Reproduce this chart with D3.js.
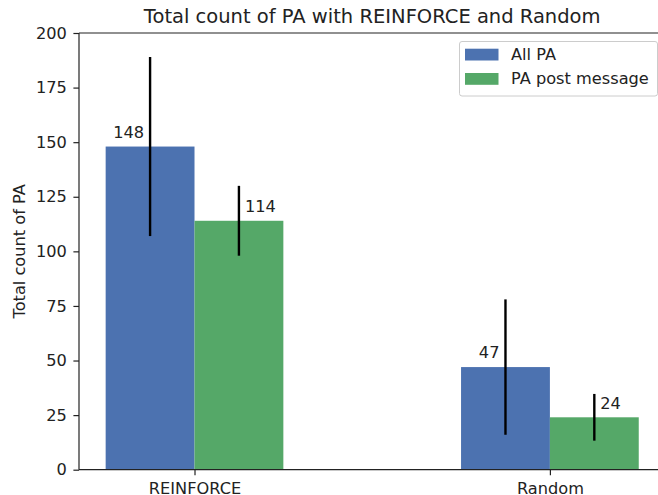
<!DOCTYPE html>
<html><head><meta charset="utf-8">
<script src="https://cdn.jsdelivr.net/npm/d3@7"></script>
<style>body{margin:0;background:#fff}svg{display:block;font-family:"DejaVu Sans",sans-serif}</style>
</head><body><div id="chart"></div>
<script>
const categories = ["REINFORCE", "Random"];
const seriesNames = ["All PA", "PA post message"];
const allPA = [148, 47];
const allPAErr = [41, 31];
const postMsg = [114, 24];
const postMsgErr = [16, 10.7];
const yTicks = [0, 25, 50, 75, 100, 125, 150, 175, 200];
const colors = ["#4c72b0", "#55a868"];

(function () {
const W = 658, H = 495;
const FS = "16.2px", TFS = "19.5px";
const svg = d3.select("#chart").append("svg").attr("width", W).attr("height", H);
const pLeft = 79, pTop = 33, pBottom = 469.7, pRight = 665.4;
const x = d3.scaleLinear().domain([-0.325, 1.325]).range([pLeft, pRight]);
const y = d3.scaleLinear().domain([0, 200]).range([pBottom, pTop]);
const bw = 0.25;

const series = [
  {name: seriesNames[0], vals: allPA, errs: allPAErr, off: -bw/2, color: colors[0]},
  {name: seriesNames[1], vals: postMsg, errs: postMsgErr, off: bw/2, color: colors[1]}
];

series.forEach((s) => {
  svg.append("g").selectAll("rect").data(s.vals).join("rect")
    .attr("x", (d, i) => x(i + s.off - bw/2))
    .attr("width", (d, i) => x(i + s.off + bw/2) - x(i + s.off - bw/2))
    .attr("y", d => y(d))
    .attr("height", d => y(0) - y(d))
    .attr("fill", s.color);
});
series.forEach((s, si) => {
  const g = svg.append("g");
  g.selectAll("line").data(s.vals).join("line")
    .attr("x1", (d, i) => x(i + s.off)).attr("x2", (d, i) => x(i + s.off))
    .attr("y1", (d, i) => y(d + s.errs[i])).attr("y2", (d, i) => y(d - s.errs[i]))
    .attr("stroke", "#000").attr("stroke-width", 2.4);
  g.selectAll("text").data(s.vals).join("text")
    .attr("x", (d, i) => x(i + s.off) + (si === 0 ? -6 : 6))
    .attr("y", d => y(d) - 8.7)
    .attr("text-anchor", si === 0 ? "end" : "start")
    .attr("font-size", FS).attr("fill", "#222")
    .text(d => d);
});

const yAxis = d3.axisLeft(y).tickValues(yTicks).tickSize(5.6).tickPadding(6.5);
const gy = svg.append("g").attr("transform", `translate(${pLeft},0)`).call(yAxis);
gy.select(".domain").remove();
gy.selectAll("text").attr("font-size", FS).attr("fill", "#222").attr("font-family", "DejaVu Sans");
gy.selectAll("line").attr("stroke", "#222").attr("stroke-width", 1.2);

const xAxis = d3.axisBottom(x).tickValues([0, 1]).tickFormat(i => categories[i]).tickSize(5.6).tickPadding(6);
const gx = svg.append("g").attr("transform", `translate(0,${pBottom})`).call(xAxis);
gx.select(".domain").remove();
gx.selectAll("text").attr("font-size", FS).attr("fill", "#222").attr("font-family", "DejaVu Sans")
  .attr("y", 24.0).attr("dy", 0);
gx.selectAll("line").attr("stroke", "#222").attr("stroke-width", 1.2);

const sp = svg.append("g").attr("stroke", "#222").attr("stroke-width", 1.2).attr("fill", "none");
sp.append("line").attr("x1", pLeft).attr("x2", pLeft).attr("y1", pTop).attr("y2", pBottom);
sp.append("line").attr("x1", pLeft).attr("x2", pRight).attr("y1", pBottom).attr("y2", pBottom);
sp.append("line").attr("x1", pLeft).attr("x2", pRight).attr("y1", pTop).attr("y2", pTop);
sp.append("line").attr("x1", pRight).attr("x2", pRight).attr("y1", pTop).attr("y2", pBottom);

svg.append("text").attr("x", (pLeft + pRight) / 2).attr("y", 22.5).attr("text-anchor", "middle")
  .attr("font-size", TFS).attr("fill", "#222").text("Total count of PA with REINFORCE and Random");

svg.append("text").attr("transform", `translate(25,${(pTop + pBottom) / 2}) rotate(-90)`)
  .attr("text-anchor", "middle").attr("font-size", FS).attr("fill", "#222").text("Total count of PA");

const lg = svg.append("g");
lg.append("rect").attr("x", 459.5).attr("y", 41.5).attr("width", 198).attr("height", 54.5)
  .attr("rx", 2.5).attr("fill", "#fff").attr("fill-opacity", 0.8).attr("stroke", "#ccc").attr("stroke-width", 1);
series.forEach((s, i) => {
  lg.append("rect").attr("x", 465).attr("y", 48.7 + i * 24.3).attr("width", 33.5).attr("height", 11.8).attr("fill", s.color);
  lg.append("text").attr("x", 511).attr("y", 60 + i * 24.3).attr("font-size", FS).attr("fill", "#222").text(s.name);
});
})();
</script></body></html>
